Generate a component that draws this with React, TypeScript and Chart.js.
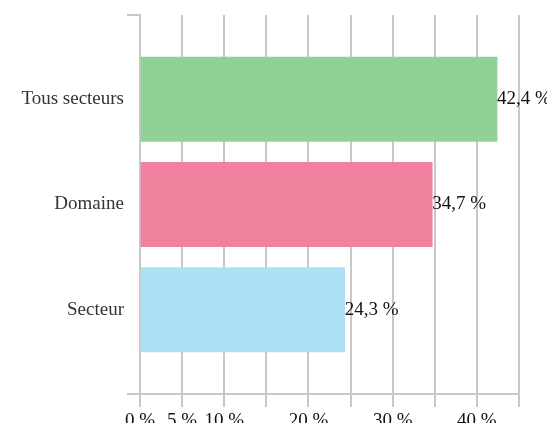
import React, { useEffect, useRef } from "react";
import { Chart, registerables } from "chart.js";

Chart.register(...registerables);

const categories = ["Tous secteurs", "Domaine", "Secteur"];
const values = [42.4, 34.7, 24.3];
const barColors = ["#90d197", "#f0829f", "#ade2f6"];
const xTickLabels = ["0 %", "5 %", "10 %", "", "20 %", "", "30 %", "", "40 %", ""];
const yTickValues = [-0.8, 0, 1, 2, 2.8];

const GRID = "#c8c8c8";
const FONT = "'Liberation Serif', 'Times New Roman', serif";

const fmt = (v: number) => v.toFixed(1).replace(".", ",") + " %";

export default function App() {
  const ref = useRef<HTMLCanvasElement | null>(null);

  useEffect(() => {
    document.documentElement.style.overflow = "hidden";
    document.body.style.overflow = "hidden";
    if (!ref.current) return;
    const valueLabels = {
      id: "valueLabels",
      afterDatasetsDraw(chart: any) {
        const ctx = chart.ctx;
        const meta = chart.getDatasetMeta(0);
        ctx.save();
        ctx.font = `19px ${FONT}`;
        ctx.fillStyle = "#111";
        ctx.textAlign = "left";
        ctx.textBaseline = "middle";
        meta.data.forEach((el: any, i: number) => {
          ctx.fillText(fmt(values[i]), el.x, el.y);
        });
        ctx.restore();
      },
    };

    const chart = new Chart(ref.current, {
      type: "bar",
      data: {
        datasets: [
          {
            data: values.map((v, i) => ({ x: v, y: i })),
            backgroundColor: barColors,
            borderWidth: 0,
            categoryPercentage: 1,
            barPercentage: 1,
          },
        ],
      },
      options: {
        indexAxis: "y",
        animation: false,
        responsive: false,
        layout: { padding: { top: 7, right: 44, left: 0, bottom: 0 } },
        plugins: { legend: { display: false }, tooltip: { enabled: false } },
        scales: {
          x: {
            type: "linear",
            min: 0,
            max: 45,
            position: "bottom",
            afterFit: (s: any) => {
              s.height = 35;
              s.paddingLeft = 0;
              s.paddingRight = 0;
            },
            ticks: {
              stepSize: 5,
              autoSkip: false,
              maxRotation: 0,
              padding: 3,
              color: "#111",
              font: { family: FONT, size: 19 },
              callback: (_v: any, i: number) => xTickLabels[i] ?? "",
            },
            grid: { color: GRID, lineWidth: 2, tickLength: 13, drawOnChartArea: true },
            border: { display: true, color: GRID, width: 2 },
          },
          y: {
            type: "linear",
            min: -0.8,
            max: 2.8,
            reverse: true,
            offset: false,
            afterFit: (s: any) => {
              s.width = 132;
              s.paddingTop = 0;
              s.paddingBottom = 0;
            },
            afterBuildTicks: (s: any) => {
              s.ticks = yTickValues.map((v) => ({ value: v }));
            },
            ticks: {
              autoSkip: false,
              padding: 3,
              color: "#333",
              font: { family: FONT, size: 19 },
              callback: (v: any) => categories[v as number] ?? "",
            },
            grid: {
              offset: false,
              drawOnChartArea: false,
              tickLength: 13,
              lineWidth: 2,
              color: (c: any) =>
                c.tick && (c.tick.value === yTickValues[0] || c.tick.value === yTickValues[yTickValues.length - 1])
                  ? GRID
                  : "rgba(0,0,0,0)",
            },
            border: { display: true, color: GRID, width: 2 },
          },
        },
      } as any,
      plugins: [valueLabels],
    });
    return () => chart.destroy();
  }, []);

  return <canvas ref={ref} width={555} height={421} style={{ display: "block" }} />;
}
